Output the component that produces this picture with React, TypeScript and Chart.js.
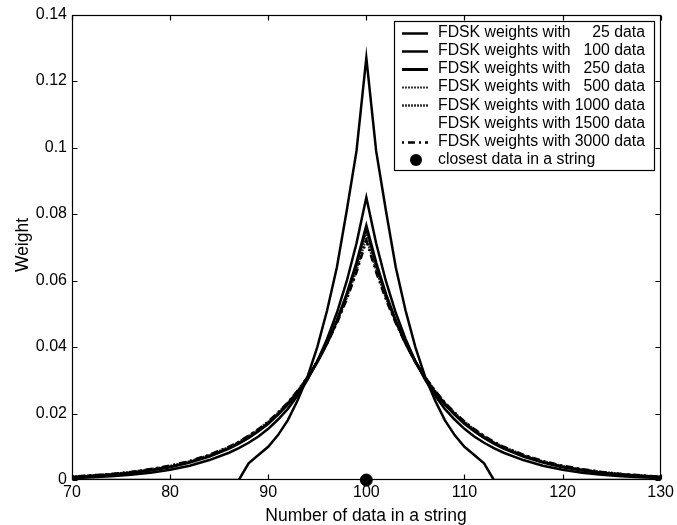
import React, { useEffect, useRef } from 'react';
import { Chart, registerables } from 'chart.js';

Chart.register(...registerables);

// x positions (number of data in a string)
const xValues = [70, 72, 74, 76, 78, 80, 82, 84, 86, 87, 88, 89, 90, 91, 92, 93, 94, 95, 96, 97, 98, 99, 100,
  101, 102, 103, 104, 105, 106, 107, 108, 109, 110, 111, 112, 113, 114, 116, 118, 120, 122, 124, 126, 128, 130];

const w25 = [0, 0, 0, 0, 0, 0, 0, 0, 0, 0, 0.0050, 0.0075, 0.0100, 0.0135, 0.0180, 0.0240, 0.0310, 0.0400, 0.0510, 0.0640, 0.0810, 0.0990, 0.1270,
  0.0990, 0.0810, 0.0640, 0.0510, 0.0400, 0.0310, 0.0240, 0.0180, 0.0135, 0.0100, 0.0075, 0.0050, 0, 0, 0, 0, 0, 0, 0, 0, 0, 0];
const w100 = [0.0005, 0.0008, 0.0011, 0.0016, 0.0022, 0.0031, 0.0043, 0.0060, 0.0082, 0.0096, 0.0112, 0.0131, 0.0154, 0.0182, 0.0214, 0.0254, 0.0301, 0.0357, 0.0424, 0.0503, 0.0598, 0.0712, 0.0850,
  0.0712, 0.0598, 0.0503, 0.0424, 0.0357, 0.0301, 0.0254, 0.0214, 0.0182, 0.0154, 0.0131, 0.0112, 0.0096, 0.0082, 0.0060, 0.0043, 0.0031, 0.0022, 0.0016, 0.0011, 0.0008, 0.0005];
const w250 = [0.0008, 0.0012, 0.0016, 0.0021, 0.0029, 0.0039, 0.0053, 0.0071, 0.0095, 0.0110, 0.0127, 0.0147, 0.0170, 0.0197, 0.0228, 0.0264, 0.0306, 0.0355, 0.0412, 0.0479, 0.0558, 0.0652, 0.0763,
  0.0652, 0.0558, 0.0479, 0.0412, 0.0355, 0.0306, 0.0264, 0.0228, 0.0197, 0.0170, 0.0147, 0.0127, 0.0110, 0.0095, 0.0071, 0.0053, 0.0039, 0.0029, 0.0021, 0.0016, 0.0012, 0.0008];
const w500 = [0.0009, 0.0013, 0.0017, 0.0023, 0.0031, 0.0041, 0.0055, 0.0074, 0.0098, 0.0113, 0.0130, 0.0150, 0.0173, 0.0200, 0.0231, 0.0267, 0.0309, 0.0357, 0.0413, 0.0478, 0.0553, 0.0642, 0.0745,
  0.0642, 0.0553, 0.0478, 0.0413, 0.0357, 0.0309, 0.0267, 0.0231, 0.0200, 0.0173, 0.0150, 0.0130, 0.0113, 0.0098, 0.0074, 0.0055, 0.0041, 0.0031, 0.0023, 0.0017, 0.0013, 0.0009];
const w1000 = [0.0010, 0.0013, 0.0018, 0.0024, 0.0032, 0.0042, 0.0056, 0.0075, 0.0099, 0.0114, 0.0132, 0.0152, 0.0175, 0.0202, 0.0232, 0.0268, 0.0309, 0.0357, 0.0412, 0.0475, 0.0548, 0.0632, 0.0730,
  0.0632, 0.0548, 0.0475, 0.0412, 0.0357, 0.0309, 0.0268, 0.0232, 0.0202, 0.0175, 0.0152, 0.0132, 0.0114, 0.0099, 0.0075, 0.0056, 0.0042, 0.0032, 0.0024, 0.0018, 0.0013, 0.0010];
const w1500 = [0.0010, 0.0014, 0.0018, 0.0024, 0.0032, 0.0043, 0.0057, 0.0075, 0.0100, 0.0115, 0.0132, 0.0152, 0.0176, 0.0202, 0.0233, 0.0268, 0.0309, 0.0356, 0.0411, 0.0473, 0.0545, 0.0628, 0.0725,
  0.0628, 0.0545, 0.0473, 0.0411, 0.0356, 0.0309, 0.0268, 0.0233, 0.0202, 0.0176, 0.0152, 0.0132, 0.0115, 0.0100, 0.0075, 0.0057, 0.0043, 0.0032, 0.0024, 0.0018, 0.0014, 0.0010];
const w3000 = [0.0010, 0.0014, 0.0018, 0.0024, 0.0033, 0.0043, 0.0057, 0.0076, 0.0100, 0.0115, 0.0133, 0.0153, 0.0176, 0.0203, 0.0233, 0.0269, 0.0309, 0.0356, 0.0410, 0.0472, 0.0543, 0.0625, 0.0720,
  0.0625, 0.0543, 0.0472, 0.0410, 0.0356, 0.0309, 0.0269, 0.0233, 0.0203, 0.0176, 0.0153, 0.0133, 0.0115, 0.0100, 0.0076, 0.0057, 0.0043, 0.0033, 0.0024, 0.0018, 0.0014, 0.0010];

const closestX = [100];
const closestY = [0];

const sampleSizes = ['25', '100', '250', '500', '1000', '1500', '3000'];
const xTicks = [70, 80, 90, 100, 110, 120, 130];
const yTicks = [0, 0.02, 0.04, 0.06, 0.08, 0.1, 0.12, 0.14];

const xTitle = 'Number of data in a string';
const yTitle = 'Weight';
const legendPrefix = 'FDSK weights with';
const closestLabel = 'closest data in a string';

const FONT = '"Liberation Sans", Arial, Helvetica, sans-serif';

const toPts = (ys: number[]) => ys.map((y, i) => ({ x: xValues[i], y }));

const framePlugin = {
  id: 'matlabFrame',
  afterDraw(chart: any) {
    const ctx = chart.ctx as CanvasRenderingContext2D;
    const a = chart.chartArea;
    const xs = chart.scales.x;
    const ys = chart.scales.y;
    ctx.save();
    ctx.strokeStyle = '#000';
    ctx.lineWidth = 1.2;
    ctx.setLineDash([]);
    const L = Math.round(a.left) + 0.5;
    const R = Math.round(a.right) - 0.5;
    const T = Math.round(a.top) + 0.5;
    const B = Math.round(a.bottom) - 0.5;
    ctx.strokeRect(L, T, R - L, B - T);
    ctx.beginPath();
    xTicks.forEach((v) => {
      const p = Math.round(xs.getPixelForValue(v)) + 0.5;
      ctx.moveTo(p, B); ctx.lineTo(p, B - 5);
      ctx.moveTo(p, T); ctx.lineTo(p, T + 5);
    });
    yTicks.forEach((v) => {
      const p = Math.round(ys.getPixelForValue(v)) + 0.5;
      ctx.moveTo(L, p); ctx.lineTo(L + 5, p);
      ctx.moveTo(R, p); ctx.lineTo(R - 5, p);
    });
    ctx.stroke();

    // legend
    const bx = 394.5, by = 21.5, bw = 260, bh = 149;
    ctx.fillStyle = '#fff';
    ctx.fillRect(bx, by, bw, bh);
    ctx.lineWidth = 1.2;
    ctx.strokeRect(bx, by, bw, bh);
    const rowY0 = 32.5, pitch = 18.2;
    ctx.font = '15.8px ' + FONT;
    ctx.textBaseline = 'middle';
    const lineDs = chart.data.datasets.filter((d: any) => d.isSeries);
    lineDs.forEach((d: any, i: number) => {
      const y = rowY0 + i * pitch;
      ctx.save();
      ctx.strokeStyle = d.legendColor;
      ctx.lineWidth = d.borderWidth;
      ctx.setLineDash(d.borderDash || []);
      if (d.legendColor !== 'none') {
        ctx.beginPath();
        ctx.moveTo(402, Math.round(y) + 0.5);
        ctx.lineTo(428, Math.round(y) + 0.5);
        ctx.stroke();
      }
      ctx.restore();
      ctx.fillStyle = '#000';
      ctx.textAlign = 'left';
      ctx.fillText(legendPrefix, 438, y);
      ctx.textAlign = 'right';
      ctx.fillText(sampleSizes[i] + ' data', 645, y);
    });
    const yDot = rowY0 + 7 * pitch;
    ctx.beginPath();
    ctx.fillStyle = '#000';
    ctx.arc(416, yDot, 6, 0, Math.PI * 2);
    ctx.fill();
    ctx.textAlign = 'left';
    ctx.fillText(closestLabel, 438, yDot);

    // axis titles
    ctx.font = '17.5px ' + FONT;
    ctx.textAlign = 'center';
    ctx.textBaseline = 'middle';
    ctx.fillText(xTitle, 366, 516);
    ctx.save();
    ctx.translate(23, 245);
    ctx.rotate(-Math.PI / 2);
    ctx.fillText(yTitle, 0, 0);
    ctx.restore();
    ctx.restore();
  },
};

export default function App() {
  const ref = useRef<HTMLCanvasElement | null>(null);
  useEffect(() => {
    if (!ref.current) return;
    const series = [
      { data: w25, color: '#000', legendColor: '#000', width: 2.5, dash: [] as number[], order: 2 },
      { data: w100, color: '#000', legendColor: '#000', width: 2.5, dash: [], order: 3 },
      { data: w250, color: '#000', legendColor: '#000', width: 3, dash: [], order: 4 },
      { data: w500, color: '#333', legendColor: '#333', width: 2, dash: [2, 1], order: 5 },
      { data: w1000, color: '#333', legendColor: '#333', width: 2.5, dash: [2, 1], order: 6 },
      { data: w1500, color: '#eeeeee', legendColor: 'none', width: 1, dash: [], order: 7 },
      { data: w3000, color: '#000', legendColor: '#000', width: 2.5, dash: [2, 4, 7, 4], order: 1 },
    ];
    const datasets: any[] = series.map((s, i) => ({
      label: legendPrefix + ' ' + sampleSizes[i] + ' data',
      data: toPts(s.data),
      borderColor: s.color,
      legendColor: s.legendColor,
      borderWidth: s.width,
      borderDash: s.dash,
      pointRadius: 0,
      tension: 0,
      fill: false,
      order: s.order,
      isSeries: true,
    }));
    datasets.push({
      label: closestLabel,
      data: closestX.map((x, i) => ({ x, y: closestY[i] })),
      showLine: false,
      pointRadius: 6,
      pointBackgroundColor: '#000',
      pointBorderColor: '#000',
      borderColor: '#000',
      order: 0,
      clip: false,
    });
    const chart = new Chart(ref.current, {
      type: 'line',
      data: { datasets },
      plugins: [framePlugin],
      options: {
        animation: false,
        responsive: false,
        devicePixelRatio: 1,
        layout: { padding: { top: 14, right: 16, left: 0, bottom: 0 } },
        plugins: { legend: { display: false }, tooltip: { enabled: false } },
        scales: {
          x: {
            type: 'linear',
            min: 70,
            max: 130,
            afterFit: (s: any) => { s.height = 45; },
            afterBuildTicks: (s: any) => { s.ticks = xTicks.map((v) => ({ value: v })); },
            ticks: { color: '#000', font: { family: FONT, size: 16 }, padding: 3, maxRotation: 0, autoSkip: false },
            grid: { display: false, drawTicks: false },
            border: { display: false },
          },
          y: {
            type: 'linear',
            min: 0,
            max: 0.14,
            afterFit: (s: any) => { s.width = 72; },
            afterBuildTicks: (s: any) => { s.ticks = yTicks.map((v) => ({ value: v })); },
            ticks: {
              color: '#000',
              font: { family: FONT, size: 16 },
              padding: 5,
              autoSkip: false,
              callback: (v: any) => String(parseFloat(Number(v).toFixed(2))),
            },
            grid: { display: false, drawTicks: false },
            border: { display: false },
          },
        },
      } as any,
    });
    return () => chart.destroy();
  }, []);
  return (
    <div style={{ position: 'fixed', left: 0, top: 0, width: 677, height: 525, background: '#fff' }}>
      <canvas ref={ref} width={677} height={525} style={{ display: 'block' }} />
    </div>
  );
}
